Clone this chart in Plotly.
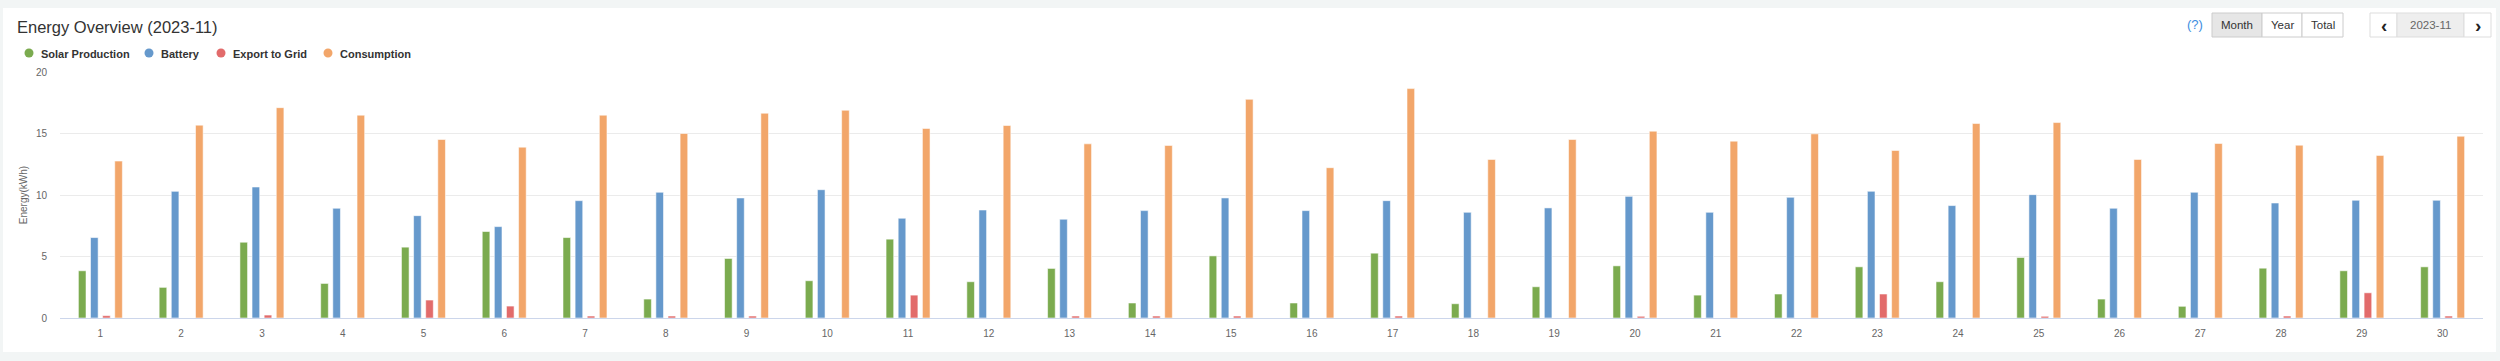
import plotly.graph_objects as go

# ---------------- data ----------------
days = [str(d) for d in range(1, 31)]
solar = [3.84, 2.49, 6.16, 2.81, 5.76, 7.03, 6.54, 1.54, 4.84, 3.03,
         6.41, 2.95, 4.03, 1.22, 5.05, 1.22, 5.27, 1.16, 2.54, 4.24,
         1.86, 1.95, 4.16, 2.95, 4.92, 1.54, 0.95, 4.05, 3.84, 4.16]
battery = [6.54, 10.3, 10.65, 8.92, 8.32, 7.43, 9.54, 10.22, 9.76, 10.43,
           8.11, 8.78, 8.03, 8.73, 9.76, 8.73, 9.54, 8.59, 8.95, 9.89,
           8.59, 9.81, 10.3, 9.14, 10.03, 8.92, 10.22, 9.35, 9.57, 9.57]
export = [0.19, 0.0, 0.24, 0.0, 1.46, 0.97, 0.16, 0.16, 0.16, 0.0,
          1.86, 0.0, 0.16, 0.16, 0.16, 0.0, 0.16, 0.0, 0.0, 0.14,
          0.0, 0.0, 1.95, 0.0, 0.14, 0.0, 0.0, 0.16, 2.05, 0.16]
consumption = [12.76, 15.68, 17.1, 16.49, 14.51, 13.89, 16.49, 15.0, 16.65, 16.89,
               15.41, 15.65, 14.16, 14.03, 17.78, 12.22, 18.65, 12.89, 14.51, 15.19,
               14.38, 14.97, 13.62, 15.81, 15.89, 12.89, 14.19, 14.05, 13.22, 14.78]
series_names = ["Solar Production", "Battery", "Export to Grid", "Consumption"]
series_colors = ["#7bab4f", "#6699cc", "#e26b6b", "#f2a66a"]
y_ticks = [0, 5, 10, 15, 20]
title_text = "Energy Overview (2023-11)"
range_buttons = ["Month", "Year", "Total"]
period_label = "2023-11"

# ---------------- layout geometry ----------------
W, H = 2500, 361
L, R, T, B = 60, 17, 72, 43
PW, PH = W - L - R, H - T - B


def px(x):
    return (x - L) / PW


def py(y):
    return (H - B - y) / PH


FONT = "Liberation Sans, Arial, Helvetica, sans-serif"

fig = go.Figure()
for name, vals, col in zip(series_names, [solar, battery, export, consumption], series_colors):
    fig.add_trace(go.Bar(
        x=days, y=vals, name=name, showlegend=False,
        marker=dict(color=col, line=dict(color="rgba(255,255,255,0.55)", width=1)),
        hovertemplate="%{x}: %{y} kWh<extra>" + name + "</extra>",
    ))

shapes = []
annotations = []

# card background
shapes.append(dict(type="rect", xref="paper", yref="paper", layer="below",
                   x0=px(3), x1=px(2496), y0=py(352), y1=py(8),
                   fillcolor="#ffffff", line=dict(width=0)))

# legend (circles + bold labels)
legend_cx = [29, 149, 221, 328]
for cx, name, col in zip(legend_cx, series_names, series_colors):
    shapes.append(dict(type="circle", xref="paper", yref="paper",
                       xsizemode="pixel", ysizemode="pixel",
                       xanchor=px(cx), yanchor=py(53),
                       x0=-4.5, x1=4.5, y0=-4.5, y1=4.5,
                       fillcolor=col, line=dict(width=0)))
    annotations.append(dict(xref="paper", yref="paper", x=px(cx + 10), y=py(53.5),
                            xanchor="left", yanchor="middle", showarrow=False,
                            text="<b>" + name + "</b>",
                            font=dict(family=FONT, size=11, color="#333333")))

# title
annotations.append(dict(xref="paper", yref="paper", x=px(15), y=py(27),
                        xanchor="left", yanchor="middle", showarrow=False,
                        text=title_text,
                        font=dict(family=FONT, size=16.5, color="#333333")))

# help mark
annotations.append(dict(xref="paper", yref="paper", x=px(2195), y=py(25),
                        xanchor="center", yanchor="middle", showarrow=False,
                        text="(?)", font=dict(family=FONT, size=13, color="#3d8ee0")))

# range buttons
btn_edges = [2212, 2262, 2302, 2343]
for i, lab in enumerate(range_buttons):
    x0, x1 = btn_edges[i], btn_edges[i + 1]
    shapes.append(dict(type="rect", xref="paper", yref="paper",
                       x0=px(x0), x1=px(x1), y0=py(37), y1=py(13),
                       fillcolor="#e6e6e6" if i == 0 else "#ffffff",
                       line=dict(color="#cccccc", width=1)))
    annotations.append(dict(xref="paper", yref="paper", x=px((x0 + x1) / 2), y=py(25),
                            xanchor="center", yanchor="middle", showarrow=False,
                            text=lab, font=dict(family=FONT, size=11.5, color="#333333")))

# period navigator
nav_edges = [2370, 2397, 2464, 2491]
nav_fill = ["#ffffff", "#eeeeee", "#ffffff"]
nav_text = ["<b>‹</b>", period_label, "<b>›</b>"]
nav_size = [19, 11.5, 19]
nav_color = ["#222222", "#666666", "#222222"]
for i in range(3):
    x0, x1 = nav_edges[i], nav_edges[i + 1]
    shapes.append(dict(type="rect", xref="paper", yref="paper",
                       x0=px(x0), x1=px(x1), y0=py(37), y1=py(13),
                       fillcolor=nav_fill[i], line=dict(color="#dddddd", width=1)))
    annotations.append(dict(xref="paper", yref="paper", x=px((x0 + x1) / 2),
                            y=py(26 if i != 1 else 25),
                            xanchor="center", yanchor="middle", showarrow=False,
                            text=nav_text[i],
                            font=dict(family=FONT, size=nav_size[i], color=nav_color[i])))

fig.update_layout(
    width=W, height=H,
    margin=dict(l=L, r=R, t=T, b=B),
    paper_bgcolor="#f2f5f5",
    plot_bgcolor="#ffffff",
    barmode="group",
    bargap=0.4,
    bargroupgap=0.37,
    showlegend=False,
    font=dict(family=FONT, size=10, color="#666666"),
    shapes=shapes,
    annotations=annotations,
    xaxis=dict(
        type="category",
        showgrid=False,
        showline=True, linecolor="#ccd6eb", linewidth=1,
        ticks="", ticklabelstandoff=6,
        tickfont=dict(family=FONT, size=10, color="#666666"),
        fixedrange=True,
    ),
    yaxis=dict(
        range=[0, 20],
        tickvals=y_ticks,
        showgrid=True, gridcolor="#ebebeb", gridwidth=1,
        zeroline=False,
        showline=False,
        ticks="", ticklabelstandoff=12,
        tickfont=dict(family=FONT, size=10, color="#666666"),
        title=dict(text="Energy(kWh)", standoff=6,
                   font=dict(family=FONT, size=10, color="#666666")),
        fixedrange=True,
    ),
)

fig.write_html("out.html")
